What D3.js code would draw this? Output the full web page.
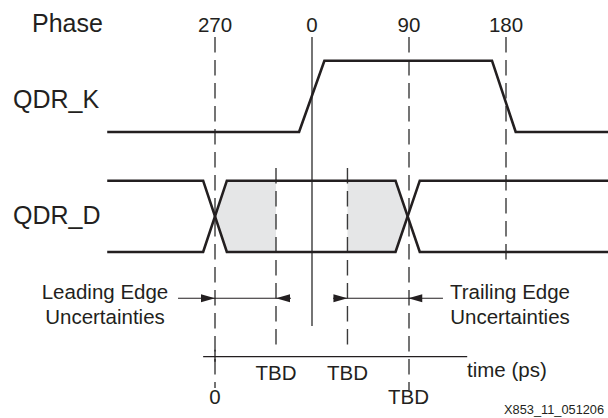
<!DOCTYPE html>
<html>
<head>
<meta charset="utf-8">
<script src="https://cdn.jsdelivr.net/npm/d3@7"></script>
<style>
  html, body { margin: 0; padding: 0; background: #fff; }
  svg { display: block; font-family: "Liberation Sans", Arial, Helvetica, sans-serif; }
</style>
</head>
<body>
<svg id="chart" width="608" height="418"></svg>
<script>
// ---- data (time expressed in phase degrees) ----
const phaseLabels = ["270", "0", "90", "180"];
const phaseDeg = [270, 360, 450, 540];

const kTimes  = [170, 348, 371.5, 527, 549, 635];
const kLevels = [0, 0, 1, 1, 0, 0];

const dTimesA  = [170, 259, 281, 437.5, 460, 635];
const dLevelsA = [1, 1, 0, 0, 1, 1];
const dTimesB  = [170, 259, 281, 437.5, 460, 635];
const dLevelsB = [0, 0, 1, 1, 0, 0];

const crossings = [270, 448.7];
const tbdDeg = [326.6, 392.9];

const timeLabels = ["0", "TBD", "TBD", "TBD"];
const timeDeg = [270, 326.6, 392.9, 449.5];
const timeRow = [1, 0, 0, 1];

const axisRange = [259, 504];
const leadingSpan = [235.7, 270, 326.6, 340.5];
const trailingSpan = [379.5, 392.9, 449.3, 481.5];

// ---- scales ----
const svg = d3.select("#chart");
const x = d3.scaleLinear().domain([270, 540]).range([215, 506]);
const yK = d3.scaleLinear().domain([0, 1]).range([132, 60.7]);
const yD = d3.scaleLinear().domain([0, 1]).range([252, 180.7]);
const ink = "#231f20";

// ---- shaded uncertainty windows ----
const fillCol = "#e5e6e7";
const mid = (yD(0) + yD(1)) / 2;
svg.append("polygon").attr("fill", fillCol)
  .attr("points", [[x(crossings[0]), mid], [x(dTimesA[2]), yD(1)], [x(tbdDeg[0]), yD(1)],
                   [x(tbdDeg[0]), yD(0)], [x(dTimesA[2]), yD(0)]].map(p => p.join(",")).join(" "));
svg.append("polygon").attr("fill", fillCol)
  .attr("points", [[x(tbdDeg[1]), yD(1)], [x(dTimesA[3]), yD(1)], [x(crossings[1]), mid],
                   [x(dTimesA[3]), yD(0)], [x(tbdDeg[1]), yD(0)]].map(p => p.join(",")).join(" "));

// ---- vertical reference lines ----
const vlines = [
  {deg: phaseDeg[0], y0: 37, y1: 388, dash: true},
  {deg: phaseDeg[1], y0: 37, y1: 326, dash: false},
  {deg: phaseDeg[2], y0: 37, y1: 390, dash: true},
  {deg: phaseDeg[3], y0: 37, y1: 264, dash: true},
  {deg: tbdDeg[0], y0: 168, y1: 351, dash: true},
  {deg: tbdDeg[1], y0: 168, y1: 351, dash: true}
];
svg.selectAll("line.v").data(vlines).join("line")
  .attr("class", "v")
  .attr("x1", d => x(d.deg)).attr("x2", d => x(d.deg))
  .attr("y1", d => d.y0).attr("y2", d => d.y1)
  .attr("stroke", "#3a3a3a").attr("stroke-width", 1.4)
  .attr("stroke-dasharray", d => d.dash ? "15.5,7.5" : null);

// ---- signals ----
const line = (ys) => d3.line().x(d => x(d[0])).y(d => ys(d[1]));
const sig = (times, levels, ys) => svg.append("path")
  .attr("d", line(ys)(times.map((t, i) => [t, levels[i]])))
  .attr("fill", "none").attr("stroke", ink).attr("stroke-width", 2.6)
  .attr("stroke-linejoin", "miter");
sig(kTimes, kLevels, yK);
sig(dTimesA, dLevelsA, yD);
sig(dTimesB, dLevelsB, yD);

// ---- time axis ----
const axY = 356.7;
svg.append("line").attr("x1", x(axisRange[0])).attr("x2", x(axisRange[1]))
  .attr("y1", axY).attr("y2", axY).attr("stroke", ink).attr("stroke-width", 1.3);
svg.append("line").attr("x1", x(270)).attr("x2", x(270))
  .attr("y1", axY - 7).attr("y2", axY + 5).attr("stroke", ink).attr("stroke-width", 1.3);

// ---- arrows ----
const arrowY = 298.3;
function arrowSpan(s) {
  svg.append("line").attr("x1", x(s[0])).attr("x2", x(s[3]))
    .attr("y1", arrowY).attr("y2", arrowY).attr("stroke", ink).attr("stroke-width", 1.1);
  const tipR = x(s[1]), tipL = x(s[2]);
  svg.append("path").attr("fill", ink)
    .attr("d", `M${tipR},${arrowY} L${tipR - 14},${arrowY - 4} L${tipR - 14},${arrowY + 4} Z`);
  svg.append("path").attr("fill", ink)
    .attr("d", `M${tipL},${arrowY} L${tipL + 14},${arrowY - 4} L${tipL + 14},${arrowY + 4} Z`);
}
arrowSpan(leadingSpan);
arrowSpan(trailingSpan);

// ---- text ----
const txt = (s, xx, yy, size, anchor) => svg.append("text").text(s)
  .attr("x", xx).attr("y", yy).attr("font-size", size)
  .attr("text-anchor", anchor || "start").attr("fill", ink);

txt("Phase", 32, 32, 25);
txt("QDR_K", 13, 108, 25);
txt("QDR_D", 13, 224, 25);

svg.selectAll("text.ph").data(phaseLabels).join("text")
  .attr("class", "ph").text(d => d)
  .attr("x", (d, i) => x(phaseDeg[i])).attr("y", 31.5)
  .attr("font-size", 20.5).attr("text-anchor", "middle").attr("fill", ink);

svg.selectAll("text.tl").data(timeLabels).join("text")
  .attr("class", "tl").text(d => d)
  .attr("x", (d, i) => x(timeDeg[i])).attr("y", (d, i) => timeRow[i] ? 404 : 380)
  .attr("font-size", 20.5).attr("text-anchor", "middle").attr("fill", ink);

txt("time (ps)", 467, 377, 20.5);
txt("Leading Edge", 105, 299, 20.5, "middle");
txt("Uncertainties", 105, 324, 20.5, "middle");
txt("Trailing Edge", 510, 299, 20.5, "middle");
txt("Uncertainties", 510, 324, 20.5, "middle");
txt("X853_11_051206", 504, 414, 12.8);
</script>
</body>
</html>
